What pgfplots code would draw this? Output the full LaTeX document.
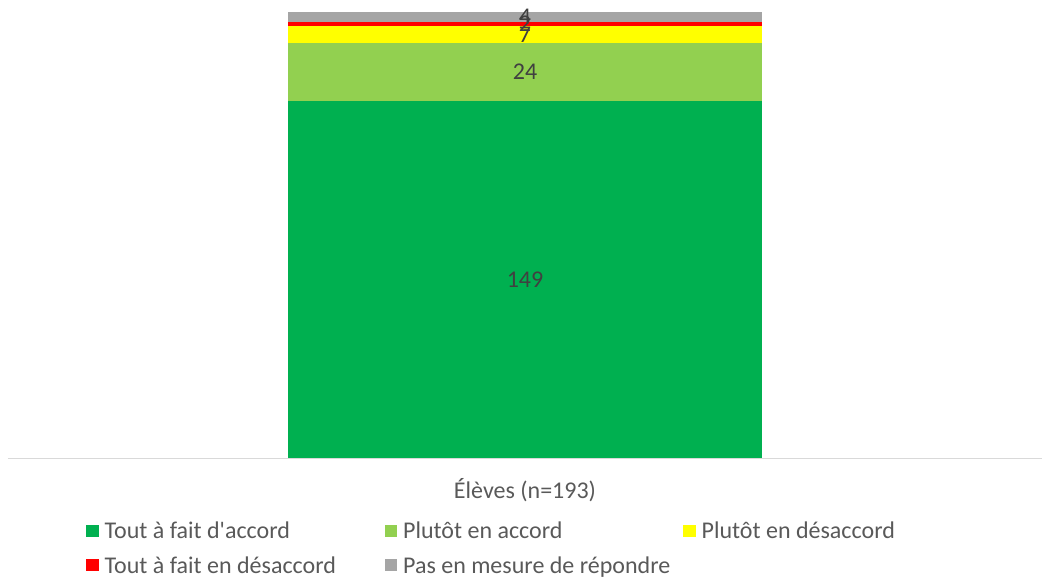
\documentclass[border=0pt]{standalone}
\usepackage{pgfplots}
\pgfplotsset{compat=1.18}
\usepackage{fontspec}
\setmainfont{Carlito}[Ligatures=TeXOff]
\definecolor{cDG}{HTML}{00B050}
\definecolor{cLG}{HTML}{92D050}
\definecolor{cY}{HTML}{FFFF00}
\definecolor{cR}{HTML}{FF0000}
\definecolor{cGr}{HTML}{A5A5A5}
\definecolor{txt}{HTML}{595959}
\definecolor{lab}{HTML}{404040}
\definecolor{axl}{HTML}{D9D9D9}
\newcommand{\legent}[1]{\makebox[282pt][l]{\hspace{4pt}#1}}
\begin{document}
\begin{tikzpicture}
\begin{axis}[
  name=ax,
  scale only axis,
  width=1034pt, height=446pt,
  ybar stacked,
  bar width=0.915,
  xmin=-1, xmax=1,
  ymin=0, ymax=186,
  clip=false,
  axis y line=none,
  axis x line*=bottom,
  x axis line style={draw=axl, line width=1pt, -},
  xtick=\empty, ytick=\empty,
  /pgf/number format/assume math mode=true,
  xlabel={Élèves (n=193)},
  xlabel style={at={(axis description cs:0.5,0)}, anchor=center, yshift=-32pt, font=\fontsize{24}{29}\selectfont, text=txt},
  visualization depends on=rawy \as \rawy,
  nodes near coords={\pgfmathprintnumber{\rawy}},
  every node near coord/.append style={anchor=center, font=\fontsize{24}{29}\selectfont, text=lab},
  legend columns=3,
  legend cell align=left,
  legend image code/.code={\path[#1,draw=none] (0pt,-6pt) rectangle (12.5pt,6.5pt);},
  legend style={at={(axis description cs:0.0754,-0.139)}, anchor=north west, draw=none, fill=none,
    font=\fontsize{24}{29}\selectfont, text=txt, inner sep=0pt,
    /tikz/every even column/.append style={column sep=0pt},
    row sep=12pt},
]
\addplot[fill=cDG, draw=none] coordinates {(0,149)};
\addplot[fill=cLG, draw=none] coordinates {(0,24)};
\addplot[fill=cY, draw=none] coordinates {(0,7)};
\addplot[fill=cR, draw=none] coordinates {(0,2)};
\addplot[fill=cGr, draw=none] coordinates {(0,4)};
\legend{\legent{Tout à fait d'accord},\legent{Plutôt en accord},\legent{Plutôt en désaccord},\legent{Tout à fait en désaccord},\legent{Pas en mesure de répondre}}
\end{axis}
\pgfresetboundingbox
\path ([shift={(-8pt,-121pt)}]ax.south west) rectangle ([shift={(0pt,12pt)}]ax.north east);
\end{tikzpicture}
\end{document}
